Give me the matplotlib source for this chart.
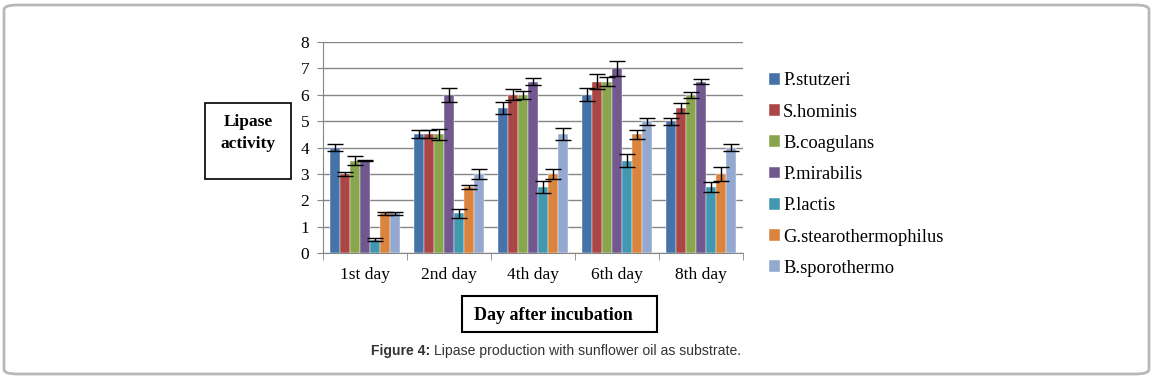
import matplotlib.pyplot as plt
from matplotlib.patches import FancyBboxPatch, Rectangle
import numpy as np

days = ['1st day', '2nd day', '4th day', '6th day', '8th day']
strains = ['P.stutzeri', 'S.hominis', 'B.coagulans', 'P.mirabilis',
           'P.lactis', 'G.stearothermophilus', 'B.sporothermo']

# lipase activity per strain, one value per day
p_stutzeri = [4.0, 4.5, 5.5, 6.0, 5.0]
s_hominis = [3.0, 4.5, 6.0, 6.5, 5.5]
b_coagulans = [3.5, 4.5, 6.0, 6.5, 6.0]
p_mirabilis = [3.5, 6.0, 6.5, 7.0, 6.5]
p_lactis = [0.5, 1.5, 2.5, 3.5, 2.5]
g_stearo = [1.5, 2.5, 3.0, 4.5, 3.0]
b_sporo = [1.5, 3.0, 4.5, 5.0, 4.0]

# error bars (half height)
err_stutzeri = [0.12, 0.15, 0.22, 0.24, 0.13]
err_hominis = [0.07, 0.15, 0.20, 0.27, 0.19]
err_coagulans = [0.17, 0.22, 0.15, 0.18, 0.12]
err_mirabilis = [0.02, 0.27, 0.14, 0.29, 0.10]
err_lactis = [0.05, 0.17, 0.22, 0.25, 0.18]
err_stearo = [0.05, 0.08, 0.19, 0.16, 0.27]
err_sporo = [0.05, 0.19, 0.23, 0.13, 0.12]

values = [p_stutzeri, s_hominis, b_coagulans, p_mirabilis, p_lactis, g_stearo, b_sporo]
errors = [err_stutzeri, err_hominis, err_coagulans, err_mirabilis, err_lactis, err_stearo, err_sporo]
colors = ['#4572A7', '#AA4643', '#89A54E', '#71588F', '#4198AF', '#DB843D', '#93A9CF']

serif = 'Liberation Serif'

fig = plt.figure(figsize=(11.55, 3.79), dpi=100)

# outer rounded frame
frame = FancyBboxPatch((4/1155, 5/379), 1145/1155, 369/379,
                       boxstyle='round,pad=0,rounding_size=0.012',
                       transform=fig.transFigure, fill=False,
                       edgecolor='#b8b8b8', linewidth=2)
fig.add_artist(frame)

ax = fig.add_axes([323/1155, 1-253/379, 420/1155, 211/379])

x = np.arange(len(days))
w = 0.119
for i, (vals, errs) in enumerate(zip(values, errors)):
    off = (i - 3) * w
    ax.bar(x + off, vals, w, color=colors[i], label=strains[i], zorder=3,
           edgecolor='white', linewidth=0.3)
    ax.errorbar(x + off, vals, yerr=errs, fmt='none', ecolor='black',
                elinewidth=1, capsize=5.5, capthick=1, zorder=4)

ax.set_xlim(-0.5, 4.5)
ax.set_ylim(0, 8)
ax.set_yticks(range(0, 9))
ax.yaxis.grid(True, color='#868686', linewidth=1, zorder=0)
ax.set_axisbelow(True)
for s in ['top', 'right']:
    ax.spines[s].set_visible(False)
for s in ['left', 'bottom']:
    ax.spines[s].set_color('#868686')
ax.set_xticks(x)
ax.set_xticklabels(days, fontfamily=serif, fontsize=12.5)
ax.set_xticks(np.arange(-0.5, 5, 1), minor=True)
ax.tick_params(axis='x', which='major', length=0, pad=10)
ax.tick_params(axis='x', which='minor', length=5, color='#868686')
ax.tick_params(axis='y', length=4, color='#868686', labelsize=12.5, pad=6)
for lab in ax.get_yticklabels():
    lab.set_fontfamily(serif)

leg = fig.legend(loc='upper left', bbox_to_anchor=(762/1155, 1-65/379),
                 frameon=False, prop={'family': serif, 'size': 13.3},
                 handlelength=0.6, handleheight=0.6, handletextpad=0.15,
                 labelspacing=0.77, borderaxespad=0)
for t in leg.get_texts():
    t.set_fontfamily(serif)

# y label box
fig.add_artist(Rectangle((205/1155, 1-179/379), 86/1155, 76/379,
                         transform=fig.transFigure, fill=False,
                         edgecolor='black', linewidth=1.2))
fig.text(248/1155, 1-133/379, 'Lipase\nactivity', ha='center', va='center',
         fontfamily=serif, fontweight='bold', fontsize=12.5, linespacing=1.45)

# x label box
fig.add_artist(Rectangle((462/1155, 1-332/379), 195/1155, 36/379,
                         transform=fig.transFigure, fill=False,
                         edgecolor='black', linewidth=1.5))
fig.text(553/1155, 1-315/379, 'Day after incubation', ha='center', va='center',
         fontfamily=serif, fontweight='bold', fontsize=13)

# caption
cap_b = fig.text(371/1155, 1-351/379, 'Figure 4:', ha='left', va='center',
                 fontfamily='Liberation Sans', fontweight='bold', fontsize=10.1,
                 color='#333333')
fig.canvas.draw()
bb = cap_b.get_window_extent()
fig.text(bb.x1/1155 + 4/1155, 1-351/379, 'Lipase production with sunflower oil as substrate.',
         ha='left', va='center', fontfamily='Liberation Sans', fontsize=10.1,
         color='#333333')

fig.savefig('out.png', dpi=100)
